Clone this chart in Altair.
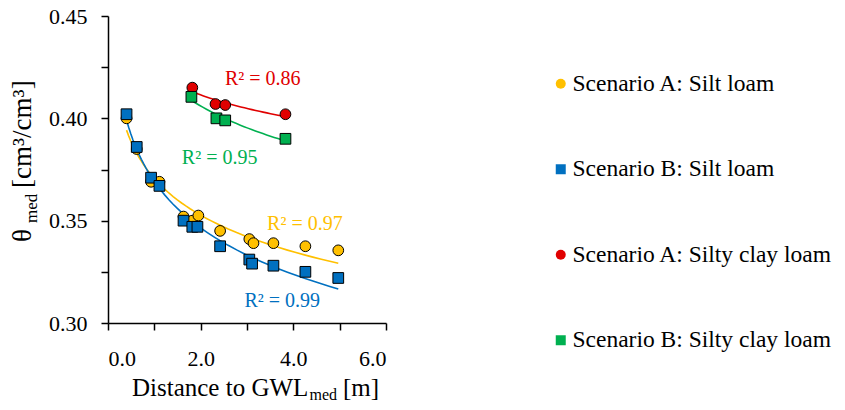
import altair as alt
import pandas as pd

# ---- data ----
series_order = ["Scenario A: Silt loam", "Scenario B: Silt loam",
                "Scenario A: Silty clay loam", "Scenario B: Silty clay loam"]
series_colors = ["#FFC000", "#0070C0", "#E00000", "#00B050"]
series_shapes = ["circle", "square", "circle", "square"]

a_silt_x = [0.40, 0.62, 0.93, 1.11, 1.63, 1.82, 1.95, 2.42, 3.05, 3.14, 3.57, 4.26, 4.97]
a_silt_y = [0.400, 0.385, 0.369, 0.369, 0.352, 0.350, 0.3525, 0.345, 0.341, 0.339, 0.339, 0.3375, 0.3355]

b_silt_x = [0.40, 0.62, 0.93, 1.11, 1.63, 1.82, 1.93, 2.42, 3.05, 3.11, 3.57, 4.26, 4.97]
b_silt_y = [0.402, 0.386, 0.371, 0.367, 0.350, 0.347, 0.347, 0.3375, 0.331, 0.329, 0.328, 0.325, 0.322]

a_scl_x = [1.82, 2.32, 2.53, 3.83]
a_scl_y = [0.415, 0.407, 0.4065, 0.402]

b_scl_x = [1.80, 2.34, 2.53, 3.83]
b_scl_y = [0.4105, 0.400, 0.399, 0.390]

r2_text = ["R² = 0.97", "R² = 0.99", "R² = 0.86", "R² = 0.95"]
r2_x = [4.25, 3.76, 3.34, 2.41]
r2_y = [0.3454, 0.3078, 0.4164, 0.3776]

x_ticks = [0, 1, 2, 3, 4, 5, 6]
y_ticks = [0.30, 0.325, 0.35, 0.375, 0.40, 0.425, 0.45]

FONT = "Liberation Serif"
color_of = dict(zip(series_order, series_colors))

# draw order: A series first, then B (B squares sit on top)
rows = []
for name, xs, ys in [(series_order[0], a_silt_x, a_silt_y),
                     (series_order[2], a_scl_x, a_scl_y),
                     (series_order[1], b_silt_x, b_silt_y),
                     (series_order[3], b_scl_x, b_scl_y)]:
    for xv, yv in zip(xs, ys):
        rows.append({"series": name, "c": color_of[name], "x": xv, "y": yv})
df = pd.DataFrame(rows)

r2_df = pd.DataFrame({"t": r2_text, "x": r2_x, "y": r2_y, "c": series_colors})

xscale = alt.Scale(domain=[0, 6], nice=False, zero=False)
yscale = alt.Scale(domain=[0.30, 0.45], nice=False, zero=False)

xaxis = alt.Axis(values=x_ticks, title=None, grid=False, tickSize=7,
                 labelExpr="datum.value % 2 == 0 ? format(datum.value, '.1f') : ''",
                 labelPadding=18, labelFont=FONT, labelFontSize=22)
yaxis = alt.Axis(values=y_ticks, title=None, grid=False, tickSize=7,
                 labelExpr="round(datum.value * 1000) % 50 == 0 ? format(datum.value, '.2f') : ''",
                 labelPadding=14, labelFont=FONT, labelFontSize=22)

base = alt.Chart(df)

lines = base.transform_regression(
    "x", "y", groupby=["series", "c"], method="log"
).mark_line(strokeWidth=1.6).encode(
    x=alt.X("x:Q", scale=xscale, axis=xaxis),
    y=alt.Y("y:Q", scale=yscale, axis=yaxis),
    stroke=alt.Stroke("c:N", scale=None),
    detail="series:N",
)

legend = alt.Legend(title=None, orient="none", legendX=441, legendY=56,
                    symbolSize=100, symbolStrokeColor="black", symbolStrokeWidth=1,
                    labelFont=FONT, labelFontSize=23.5, labelColor="black",
                    labelOffset=0, rowPadding=60.5, labelLimit=500)

points = base.mark_point(filled=True, size=115, stroke="black", strokeWidth=1, opacity=1).encode(
    x=alt.X("x:Q", scale=xscale, axis=xaxis),
    y=alt.Y("y:Q", scale=yscale, axis=yaxis),
    fill=alt.Fill("series:N", scale=alt.Scale(domain=series_order, range=series_colors), legend=legend),
    shape=alt.Shape("series:N", scale=alt.Scale(domain=series_order, range=series_shapes), legend=legend),
)

r2 = alt.Chart(r2_df).mark_text(font=FONT, fontSize=20, align="center", baseline="alphabetic").encode(
    x=alt.X("x:Q", scale=xscale),
    y=alt.Y("y:Q", scale=yscale),
    text="t:N",
    fill=alt.Fill("c:N", scale=None),
)


def piece(txt, px, py, size, angle=0):
    return alt.Chart(pd.DataFrame({"t": [txt]})).mark_text(
        font=FONT, fontSize=size, align="left", baseline="alphabetic", angle=angle, color="black"
    ).encode(text="t:N", x=alt.value(px), y=alt.value(py))


# axis titles with subscripts
xt1 = piece("Distance to GWL", 24, 380, 25)
xt2 = piece("med", 201.5, 384, 16)
xt3 = piece("[m]", 235, 380, 25)

yt1 = piece("θ", -77, 226, 27, angle=270)
yt2 = piece("med", -71, 207, 17, angle=270)
yt3 = piece("[cm³/cm³]", -77, 172, 27, angle=270)

chart = alt.layer(lines, points, r2, xt1, xt2, xt3, yt1, yt2, yt3).properties(
    width=278, height=307,
    background="white",
    autosize=alt.AutoSizeParams(type="none"),
    padding={"left": 100, "top": 8, "right": 451, "bottom": 79},
).configure(font=FONT).configure_view(stroke=None).configure_axis(
    domainColor="black", domainWidth=1.5, tickColor="black", tickWidth=1.5,
    labelFont=FONT, labelFontSize=22, labelColor="black",
).configure_legend(labelFont=FONT)

chart.save("out.html", embed_options={"renderer": "svg", "actions": False})
